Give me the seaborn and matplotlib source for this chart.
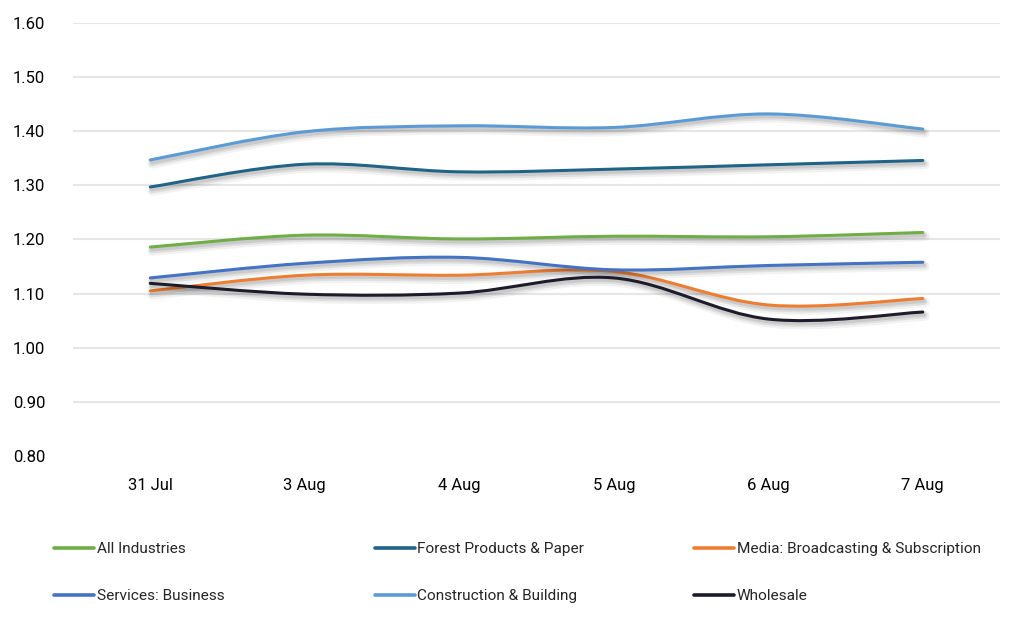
import matplotlib
matplotlib.use("Agg")
import matplotlib.pyplot as plt
import matplotlib.patheffects as pe
from matplotlib.path import Path
from matplotlib.patches import PathPatch
from matplotlib.lines import Line2D
import numpy as np
import pandas as pd
import seaborn as sns

# Data
dates = ["31 Jul", "3 Aug", "4 Aug", "5 Aug", "6 Aug", "7 Aug"]
all_industries = [1.186, 1.208, 1.201, 1.206, 1.205, 1.213]
forest_products = [1.297, 1.339, 1.325, 1.330, 1.338, 1.346]
media = [1.105, 1.134, 1.134, 1.141, 1.079, 1.091]
services_business = [1.129, 1.156, 1.167, 1.144, 1.152, 1.158]
construction = [1.347, 1.399, 1.410, 1.407, 1.432, 1.404]
wholesale = [1.119, 1.099, 1.101, 1.129, 1.053, 1.066]

series_names = ["All Industries", "Forest Products & Paper",
                "Media: Broadcasting & Subscription", "Services: Business",
                "Construction & Building", "Wholesale"]
series_values = [all_industries, forest_products, media,
                 services_business, construction, wholesale]
colors = ["#70ad47", "#1f6387", "#ed7d31", "#4472c4", "#5b9bd5", "#1c1c2b"]

df = pd.DataFrame({
    "date": dates * len(series_names),
    "value": sum(series_values, []),
    "series": [n for n in series_names for _ in dates],
})

sns.set_theme(style="white")
plt.rcParams["font.family"] = ["Roboto", "DejaVu Sans"]

fig = plt.figure(figsize=(10.24, 6.21), dpi=100)
ax = fig.add_axes([0.0713, 0.2657, 0.9053, 0.6973])

sns.lineplot(data=df, x="date", y="value", hue="series", palette=colors,
             hue_order=series_names, linewidth=2.2, sort=False, legend=False, ax=ax)


def smooth_path(xs, ys):
    # Excel-style smoothed line: cubic Bezier through the data points
    pts = np.column_stack([xs, ys])
    n = len(pts)
    verts = [pts[0]]
    codes = [Path.MOVETO]
    for i in range(n - 1):
        p0 = pts[max(i - 1, 0)]
        p1 = pts[i]
        p2 = pts[i + 1]
        p3 = pts[min(i + 2, n - 1)]
        verts += [p1 + (p2 - p0) / 6, p2 - (p3 - p1) / 6, p2]
        codes += [Path.CURVE4] * 3
    return Path(verts, codes)


shadow = [pe.SimpleLineShadow(offset=(1.5, -2.8), shadow_color="#000000", alpha=0.05, linewidth=7),
          pe.SimpleLineShadow(offset=(1.2, -2.4), shadow_color="#000000", alpha=0.08, linewidth=4.5),
          pe.SimpleLineShadow(offset=(1.0, -2.0), shadow_color="#000000", alpha=0.09, linewidth=2.5),
          pe.Normal()]

for line in list(ax.lines):
    xs, ys = line.get_xdata(), line.get_ydata()
    patch = PathPatch(smooth_path(np.asarray(xs, float), np.asarray(ys, float)),
                      facecolor="none", edgecolor=line.get_color(), linewidth=2.2,
                      capstyle="round", joinstyle="round", zorder=3)
    patch.set_path_effects(shadow)
    ax.add_patch(patch)
    line.set_visible(False)

ax.set_xlim(-0.5, 5.5)
ax.set_ylim(0.8, 1.6)
ax.set_yticks(np.arange(0.8, 1.61, 0.1))
ax.set_yticklabels([f"{v:.2f}" for v in np.arange(0.8, 1.61, 0.1)])
ax.set_xlabel("")
ax.set_ylabel("")
ax.grid(axis="y", color="#e6e6e6", linewidth=1.5)
ax.yaxis.get_gridlines()[0].set_visible(False)
for s in ax.spines.values():
    s.set_visible(False)
ax.tick_params(axis="both", length=0, labelsize=12, colors="#000000")
ax.tick_params(axis="y", pad=20)
ax.tick_params(axis="x", pad=16)

# legend in three columns, two rows
col_x = [0.053, 0.366, 0.678]
for c in range(3):
    idx = [c, c + 3]
    handles = [Line2D([0], [0], color=colors[i], linewidth=2.6) for i in idx]
    fig.legend(handles, [series_names[i] for i in idx], loc="upper left",
               bbox_to_anchor=(col_x[c], 0.127), frameon=False, fontsize=11.1,
               handlelength=2.6, handletextpad=0.15, labelspacing=2.15,
               borderaxespad=0, borderpad=0)

fig.savefig("out.png", dpi=100)
